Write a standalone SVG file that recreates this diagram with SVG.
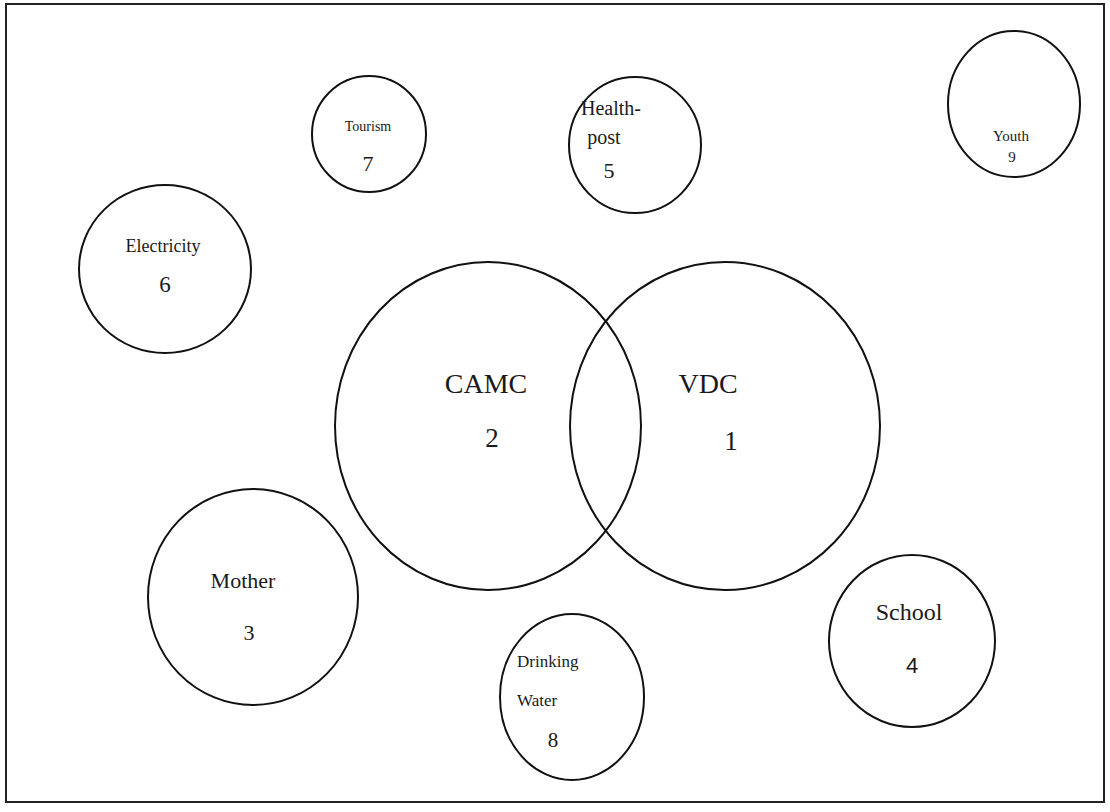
<svg xmlns="http://www.w3.org/2000/svg" width="1110" height="812" viewBox="0 0 1110 812">
<style>
.c{fill:none;stroke:#111;stroke-width:2}
.t{font-family:"Liberation Serif","Times New Roman",serif;fill:#1a1a1a;text-anchor:middle}
.l{font-family:"Liberation Serif","Times New Roman",serif;fill:#1a1a1a;text-anchor:start}
.s{font-family:"Liberation Sans",Arial,sans-serif;fill:#1a1a1a;text-anchor:middle}
</style>
<rect x="0" y="0" width="1110" height="812" fill="#fff"/>
<rect x="6" y="4" width="1098" height="798" fill="none" stroke="#222" stroke-width="2"/>
<g id="camc"><ellipse class="c" cx="488" cy="426" rx="153" ry="164"/><text class="t" x="486" y="393" font-size="28">CAMC</text><text class="t" x="492" y="447" font-size="27">2</text></g>
<g id="vdc"><ellipse class="c" cx="725" cy="426" rx="155" ry="164"/><text class="t" x="708" y="393" font-size="28">VDC</text><text class="t" x="731" y="450" font-size="27">1</text></g>
<g id="tourism"><ellipse class="c" cx="369" cy="134" rx="57" ry="58"/><text class="t" x="368" y="131" font-size="14">Tourism</text><text class="t" x="368" y="171" font-size="22">7</text></g>
<g id="healthpost"><ellipse class="c" cx="635" cy="145" rx="66" ry="68"/><text class="t" x="611" y="115" font-size="20">Health-</text><text class="t" x="604" y="144" font-size="20">post</text><text class="t" x="609" y="178" font-size="22">5</text></g>
<g id="youth"><ellipse class="c" cx="1014" cy="104" rx="66" ry="73"/><text class="t" x="1011" y="141" font-size="15">Youth</text><text class="t" x="1012" y="162" font-size="15">9</text></g>
<g id="electricity"><ellipse class="c" cx="165" cy="269" rx="86" ry="84"/><text class="t" x="163" y="252" font-size="18">Electricity</text><text class="t" x="165" y="292" font-size="23">6</text></g>
<g id="mother"><ellipse class="c" cx="253" cy="597" rx="105" ry="108"/><text class="t" x="243" y="588" font-size="22">Mother</text><text class="t" x="249" y="640" font-size="22">3</text></g>
<g id="drinkingwater"><ellipse class="c" cx="572" cy="697" rx="72" ry="83"/><text class="l" x="517" y="667" font-size="17">Drinking</text><text class="l" x="517" y="706" font-size="17">Water</text><text class="t" x="553" y="747" font-size="21">8</text></g>
<g id="school"><ellipse class="c" cx="912" cy="641" rx="83" ry="86"/><text class="t" x="909" y="620" font-size="24">School</text><text class="s" x="912" y="673" font-size="22">4</text></g>
<g id="connectors"></g>
</svg>
